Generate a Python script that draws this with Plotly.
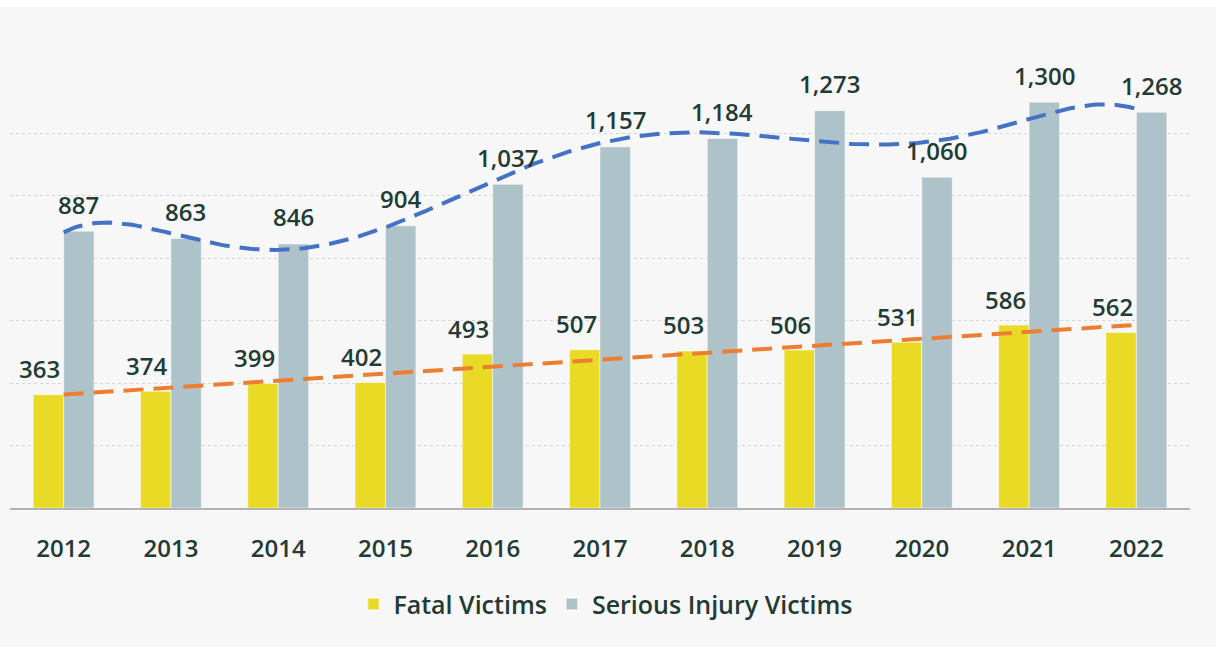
import numpy as np
import plotly.graph_objects as go

years = [2012, 2013, 2014, 2015, 2016, 2017, 2018, 2019, 2020, 2021, 2022]
fatal = [363, 374, 399, 402, 493, 507, 503, 506, 531, 586, 562]
serious = [887, 863, 846, 904, 1037, 1157, 1184, 1273, 1060, 1300, 1268]
y_ticks = [0, 200, 400, 600, 800, 1000, 1200, 1400]

FONT = "Open Sans"
TXT = "#233b35"
YELLOW = "#e9da26"
GREY = "#aec2c9"
BW = 0.284

fig = go.Figure()
fig.add_trace(go.Bar(x=years, y=fatal, name="Fatal Victims", marker_color=YELLOW,
                     marker_line=dict(color="rgba(255,255,255,0.5)", width=1),
                     width=BW, offset=-BW))
fig.add_trace(go.Bar(x=years, y=serious, name="Serious Injury Victims", marker_color=GREY,
                     marker_line=dict(color="rgba(255,255,255,0.5)", width=1),
                     width=BW, offset=0))

# trendlines computed from the data
xs = np.array(years, dtype=float)
lin = np.polyfit(xs - 2017, fatal, 1)
poly = np.polyfit(xs - 2017, serious, 6)
xf = np.linspace(2012, 2022, 300)
fig.add_trace(go.Scatter(x=xf, y=np.polyval(lin, xf - 2017), mode="lines",
                         line=dict(color="#ed7d31", width=4, dash="20px,10px"),
                         showlegend=False, hoverinfo="skip"))
fig.add_trace(go.Scatter(x=xf, y=np.polyval(poly, xf - 2017), mode="lines",
                         line=dict(color="#4472c4", width=4, dash="20px,10px"),
                         showlegend=False, hoverinfo="skip"))

annotations = []
for yr, f, s in zip(years, fatal, serious):
    annotations.append(dict(x=yr, y=f, text=f"{f:,}", showarrow=False, xanchor="center",
                            yanchor="middle", xshift=-24, yshift=26,
                            font=dict(family=FONT, size=24, color=TXT, weight=600)))
    annotations.append(dict(x=yr, y=s, text=f"{s:,}", showarrow=False, xanchor="center",
                            yanchor="middle", xshift=15, yshift=27,
                            font=dict(family=FONT, size=24, color=TXT, weight=600)))

fig.update_layout(
    width=1216, height=647,
    margin=dict(l=10, r=26, t=71, b=139),
    paper_bgcolor="#f7f7f7", plot_bgcolor="#f7f7f7",
    barmode="overlay",
    annotations=annotations,
    shapes=[dict(type="rect", xref="paper", yref="paper", x0=-0.1, x1=1.1, y0=1.1465, y1=1.3,
                 fillcolor="white", line_width=0, layer="below")],
    showlegend=True,
    legend=dict(orientation="h", x=0.505, xanchor="center", y=-0.22, yanchor="middle",
                font=dict(family=FONT, size=25, color=TXT, weight=600),
                itemsizing="constant", traceorder="normal", bgcolor="rgba(0,0,0,0)"),
    xaxis=dict(range=[2011.5, 2022.5], tickmode="array", tickvals=years,
               ticktext=[str(y) for y in years], showgrid=False, zeroline=False,
               showline=True, linecolor="#b3b3b3", linewidth=2, ticks="",
               ticklabelstandoff=18,
               tickfont=dict(family=FONT, size=24, color=TXT, weight=600)),
    yaxis=dict(range=[0, 1400], tickvals=y_ticks, showticklabels=False, showgrid=True,
               gridcolor="#d6d6d6", griddash="dot", gridwidth=1, zeroline=False),
    font=dict(family=FONT),
)

fig.write_html("out.html", config={"displayModeBar": False},
               post_script="document.body.style.margin='0';")
